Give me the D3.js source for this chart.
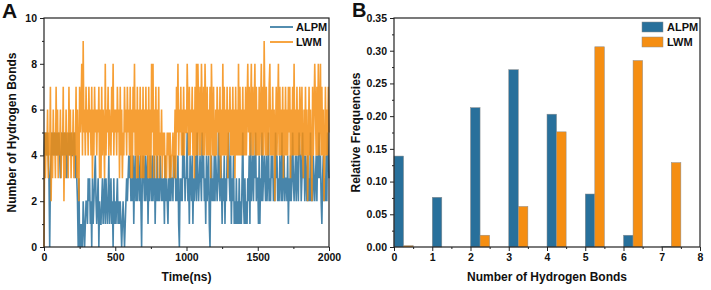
<!DOCTYPE html>
<html>
<head>
<meta charset="utf-8">
<script src="https://cdn.jsdelivr.net/npm/d3@7"></script>
<style>
  body { margin: 0; background: #fff; }
  text { font-family: "Liberation Sans", Arial, sans-serif; font-weight: bold; fill: #111; }
</style>
</head>
<body>
<svg id="chart" width="711" height="290"></svg>
<script>
// ---- data ----
// panel A: number of hydrogen bonds, one sample every 5 ns (0..2000 ns), 100 ns per chunk
const sampleStepNs = 5;
const alpmTrace = [
  "45454543034545454545", "45434545454534545454", "45453432030101021012", "21323120312342123021",
  "12312313212412312031", "21231212101210123234", "34232413423243242034", "32423413243242341324",
  "23243232314232132423", "32434232410323253423", "35231432413234253234", "32534231423410342324",
  "24323532431324132435", "32413241213121312135", "21312132415234243523", "31413252343242352324",
  "34232534232432523423", "32413242353234243254", "42353424324232523243", "23424353421342324254", "3"
].join("").split("").map(Number);
const lwmTrace = [
  "05354635472536453746", "35463547253645374635", "46354736427568495647", "56475647364756465736",
  "37465384657465475846", "56475637463547564756", "47363758463736473637", "36474637363858364736",
  "47354635453435453534", "45346375846574647465", "58647465746374848647", "48647486474647386474",
  "46475647364847464736", "57464746374648474647", "46474685746847468474", "64746847496474647846",
  "47462574684746473647", "46475736474846474647", "64743647462474642746", "86474846847462474647", "5"
].join("").split("").map(Number);

// panel B: relative frequencies
const bondCounts = [0, 1, 2, 3, 4, 5, 6, 7];
const alpmFreq = [0.139, 0.076, 0.213, 0.271, 0.203, 0.081, 0.018, 0.001];
const lwmFreq = [0.002, 0.0, 0.018, 0.062, 0.176, 0.306, 0.285, 0.129];

const seriesNames = ["ALPM", "LWM"];
const blue = "#28709b";
const orange = "#f58e12";

const svg = d3.select("#chart");

function frame(g, x0, x1, y0, y1) {
  g.append("rect").attr("x", x0).attr("y", y1).attr("width", x1 - x0).attr("height", y0 - y1)
    .attr("fill", "none").attr("stroke", "#222").attr("stroke-width", 1.2);
}

function styleAxis(sel) {
  sel.select(".domain").remove();
  sel.selectAll("line").attr("stroke", "#222").attr("stroke-width", 1);
  sel.selectAll("text").attr("font-size", 10.5).attr("fill", "#111");
}

// ---- panel A ----
const a = { left: 44, right: 329, top: 18, bottom: 247 };
const xA = d3.scaleLinear().domain([0, 2000]).range([a.left, a.right]);
const yA = d3.scaleLinear().domain([0, 10]).range([a.bottom, a.top]);

const gA = svg.append("g");
const lineA = d3.line().x((d, i) => xA(i * sampleStepNs)).y(d => yA(d));

gA.append("path").datum(alpmTrace).attr("d", lineA)
  .attr("fill", "none").attr("stroke", blue).attr("stroke-width", 1.6).attr("stroke-opacity", 0.85);
gA.append("path").datum(lwmTrace).attr("d", lineA)
  .attr("fill", "none").attr("stroke", orange).attr("stroke-width", 1.6).attr("stroke-opacity", 0.85);

gA.append("g").attr("transform", `translate(0,${a.bottom})`)
  .call(d3.axisBottom(xA).tickValues([250, 750, 1250, 1750]).tickFormat("").tickSize(2))
  .call(styleAxis);
gA.append("g").attr("transform", `translate(0,${a.bottom})`)
  .call(d3.axisBottom(xA).tickValues([0, 500, 1000, 1500, 2000]).tickFormat(d3.format("d")).tickSize(4).tickPadding(3))
  .call(styleAxis);
gA.append("g").attr("transform", `translate(${a.left},0)`)
  .call(d3.axisLeft(yA).tickValues([1, 3, 5, 7, 9]).tickFormat("").tickSize(2))
  .call(styleAxis);
gA.append("g").attr("transform", `translate(${a.left},0)`)
  .call(d3.axisLeft(yA).tickValues([0, 2, 4, 6, 8, 10]).tickSize(4).tickPadding(3))
  .call(styleAxis);
frame(gA, a.left, a.right, a.bottom, a.top);

gA.append("text").attr("x", (a.left + a.right) / 2).attr("y", 281).attr("text-anchor", "middle")
  .attr("font-size", 12).text("Time(ns)");
gA.append("text").attr("transform", `translate(16,${(a.top + a.bottom) / 2}) rotate(-90)`)
  .attr("text-anchor", "middle").attr("font-size", 12).text("Number of Hydrogen Bonds");
gA.append("text").attr("x", 2).attr("y", 18).attr("font-size", 21).text("A");

const legA = gA.append("g");
[blue, orange].forEach((c, i) => {
  legA.append("line").attr("x1", 270).attr("x2", 293).attr("y1", 27 + i * 15).attr("y2", 27 + i * 15)
    .attr("stroke", c).attr("stroke-width", 1.6);
  legA.append("text").attr("x", 296).attr("y", 31 + i * 15).attr("font-size", 11).text(seriesNames[i]);
});

// ---- panel B ----
const b = { left: 394, right: 700, top: 18, bottom: 247 };
const xB = d3.scaleLinear().domain([0, 8]).range([b.left, b.right]);
const yB = d3.scaleLinear().domain([0, 0.35]).range([b.bottom, b.top]);
const barW = 0.25;

const gB = svg.append("g");
gB.selectAll(".alpm").data(bondCounts).join("rect").attr("class", "alpm")
  .attr("x", d => xB(d)).attr("width", xB(barW) - xB(0))
  .attr("y", (d, i) => yB(alpmFreq[i])).attr("height", (d, i) => yB(0) - yB(alpmFreq[i]))
  .attr("fill", blue).attr("stroke", "#8c8c8c").attr("stroke-width", 0.5);
gB.selectAll(".lwm").data(bondCounts).join("rect").attr("class", "lwm")
  .attr("x", d => xB(d + barW)).attr("width", xB(barW) - xB(0))
  .attr("y", (d, i) => yB(lwmFreq[i])).attr("height", (d, i) => yB(0) - yB(lwmFreq[i]))
  .attr("fill", orange).attr("stroke", "#8c8c8c").attr("stroke-width", 0.5);

gB.append("g").attr("transform", `translate(0,${b.bottom})`)
  .call(d3.axisBottom(xB).tickValues(d3.range(0.5, 8, 1)).tickFormat("").tickSize(2))
  .call(styleAxis);
gB.append("g").attr("transform", `translate(0,${b.bottom})`)
  .call(d3.axisBottom(xB).tickValues(d3.range(0, 9)).tickSize(4).tickPadding(3))
  .call(styleAxis);
gB.append("g").attr("transform", `translate(${b.left},0)`)
  .call(d3.axisLeft(yB).tickValues(d3.range(0.025, 0.35, 0.05)).tickFormat("").tickSize(2))
  .call(styleAxis);
gB.append("g").attr("transform", `translate(${b.left},0)`)
  .call(d3.axisLeft(yB).tickValues(d3.range(0, 0.351, 0.05)).tickFormat(d3.format(".2f")).tickSize(4).tickPadding(3))
  .call(styleAxis);
frame(gB, b.left, b.right, b.bottom, b.top);

gB.append("text").attr("x", (b.left + b.right) / 2).attr("y", 281).attr("text-anchor", "middle")
  .attr("font-size", 12).text("Number of Hydrogen Bonds");
gB.append("text").attr("transform", `translate(360,${(b.top + b.bottom) / 2}) rotate(-90)`)
  .attr("text-anchor", "middle").attr("font-size", 12).text("Relative Frequencies");
gB.append("text").attr("x", 352).attr("y", 17).attr("font-size", 20).text("B");

const legB = gB.append("g");
[blue, orange].forEach((c, i) => {
  legB.append("rect").attr("x", 642).attr("y", 22 + i * 15).attr("width", 21).attr("height", 10)
    .attr("fill", c).attr("stroke", "#8c8c8c").attr("stroke-width", 0.5);
  legB.append("text").attr("x", 667).attr("y", 31 + i * 15).attr("font-size", 11).text(seriesNames[i]);
});
</script>
</body>
</html>
